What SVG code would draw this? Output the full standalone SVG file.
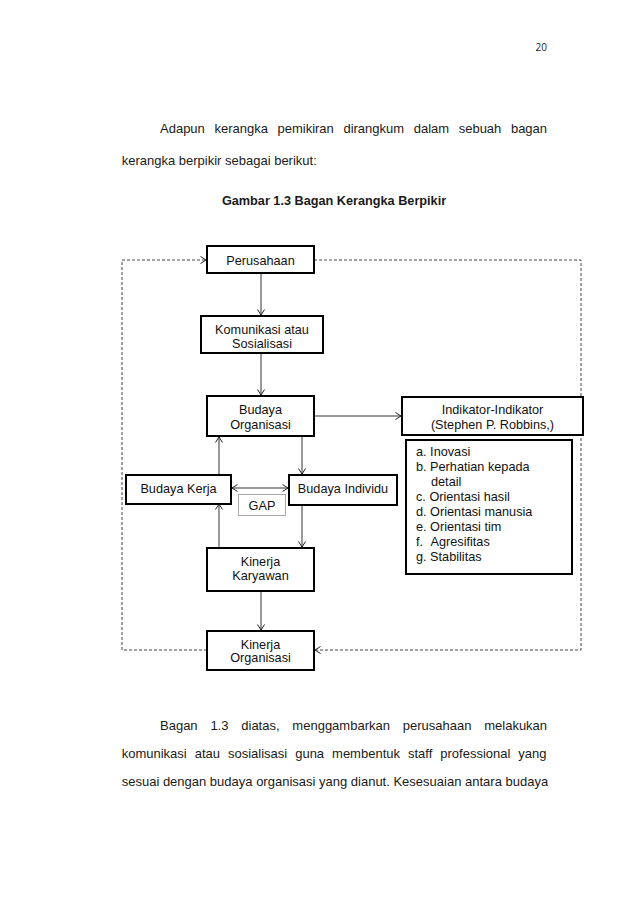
<svg xmlns="http://www.w3.org/2000/svg" width="638" height="903" viewBox="0 0 638 903">
<style>
.body{font-family:"Liberation Sans",Arial,sans-serif;font-size:13px;fill:#1a1a1a}
.t{font-family:"Liberation Sans",Arial,sans-serif;font-size:12.7px;fill:#111}
.c{text-anchor:middle}
.box{fill:#fff;stroke:#000;stroke-width:2}
.gap{fill:#fff;stroke:#aaa;stroke-width:1}
.ln{fill:none;stroke:#333;stroke-width:1}
.dash{fill:none;stroke:#444;stroke-width:1;stroke-dasharray:3,2}
</style>
<defs>
<marker id="arr" viewBox="-6 -4 7 8" refX="0" refY="0" markerWidth="7" markerHeight="8" markerUnits="userSpaceOnUse" orient="auto-start-reverse">
<path d="M-5.5,-3.5 L0,0 L-5.5,3.5" fill="none" stroke="#222" stroke-width="1"/>
</marker>
</defs>
<rect width="638" height="903" fill="#fff"/>
<text x="547" y="50.5" text-anchor="end" style="font-family:'Open Sans','Liberation Sans',sans-serif;font-size:10px;fill:#222">20</text>
<text class="body" x="160" y="133" word-spacing="5.97">Adapun kerangka pemikiran dirangkum dalam sebuah bagan</text>
<text class="body" x="121.7" y="165">kerangka berpikir sebagai berikut:</text>
<text class="body c" x="334" y="204.5" style="font-weight:bold;font-size:12.7px">Gambar 1.3 Bagan Kerangka Berpikir</text>

<g id="connectors">
<path class="dash" d="M314,260 H581 V650 H315" marker-end="url(#arr)"/>
<path class="dash" d="M207,650 H122 V260 H206" marker-end="url(#arr)"/>
<line class="ln" x1="261" y1="274" x2="261" y2="315" marker-end="url(#arr)"/>
<line class="ln" x1="261" y1="354" x2="261" y2="395" marker-end="url(#arr)"/>
<line class="ln" x1="315" y1="416" x2="401" y2="416" marker-end="url(#arr)"/>
<line class="ln" x1="302" y1="437" x2="302" y2="474" marker-end="url(#arr)"/>
<line class="ln" x1="219" y1="475" x2="219" y2="437" marker-end="url(#arr)"/>
<line class="ln" x1="219" y1="548" x2="219" y2="504" marker-end="url(#arr)"/>
<line class="ln" x1="302" y1="506" x2="302" y2="547" marker-end="url(#arr)"/>
<line class="ln" x1="232" y1="488" x2="288" y2="488" marker-start="url(#arr)" marker-end="url(#arr)"/>
<line class="ln" x1="261" y1="592" x2="261" y2="630" marker-end="url(#arr)"/>
</g>

<g id="perusahaan"><rect class="box" x="207" y="246" width="107" height="27"/><text class="t c" x="260.5" y="264.5">Perusahaan</text></g>
<g id="komunikasi"><rect class="box" x="201" y="316" width="122" height="37"/><text class="t c" x="262" y="333.5">Komunikasi atau</text><text class="t c" x="262" y="347.5">Sosialisasi</text></g>
<g id="budaya-organisasi"><rect class="box" x="207" y="396" width="107" height="40"/><text class="t c" x="260.5" y="413.5">Budaya</text><text class="t c" x="260.5" y="428.5">Organisasi</text></g>
<g id="indikator"><rect class="box" x="402" y="397" width="181" height="38"/><text class="t c" x="492.5" y="413.5">Indikator-Indikator</text><text class="t c" x="492.5" y="428.5">(Stephen P. Robbins,)</text></g>
<g id="daftar"><rect class="box" x="406" y="440" width="166" height="134"/>
<text class="t" x="416" y="456">a. Inovasi</text>
<text class="t" x="416" y="471">b. Perhatian kepada</text>
<text class="t" x="431" y="486">detail</text>
<text class="t" x="416" y="501">c. Orientasi hasil</text>
<text class="t" x="416" y="516">d. Orientasi manusia</text>
<text class="t" x="416" y="531">e. Orientasi tim</text>
<text class="t" x="416" y="546">f.</text><text class="t" x="430.5" y="546">Agresifitas</text>
<text class="t" x="416" y="561">g. Stabilitas</text>
</g>
<g id="budaya-kerja"><rect class="box" x="126" y="475" width="105" height="29"/><text class="t c" x="178.5" y="493">Budaya Kerja</text></g>
<g id="budaya-individu"><rect class="box" x="289" y="475" width="108" height="30"/><text class="t c" x="343" y="493">Budaya Individu</text></g>
<g id="gap"><rect class="gap" x="238.5" y="494.5" width="47" height="21"/><text class="t c" x="262" y="510">GAP</text></g>
<g id="kinerja-karyawan"><rect class="box" x="207" y="548" width="107" height="43"/><text class="t c" x="260.5" y="566">Kinerja</text><text class="t c" x="260.5" y="580">Karyawan</text></g>
<g id="kinerja-organisasi"><rect class="box" x="207" y="631" width="107" height="39"/><text class="t c" x="260.5" y="648.5">Kinerja</text><text class="t c" x="260.5" y="662">Organisasi</text></g>

<text class="body" x="160" y="730" word-spacing="9.19">Bagan 1.3 diatas, menggambarkan perusahaan melakukan</text>
<text class="body" x="121.7" y="758" word-spacing="4.36">komunikasi atau sosialisasi guna membentuk staff professional yang</text>
<text class="body" x="121.7" y="786">sesuai dengan budaya organisasi yang dianut. Kesesuaian antara budaya</text>
</svg>
